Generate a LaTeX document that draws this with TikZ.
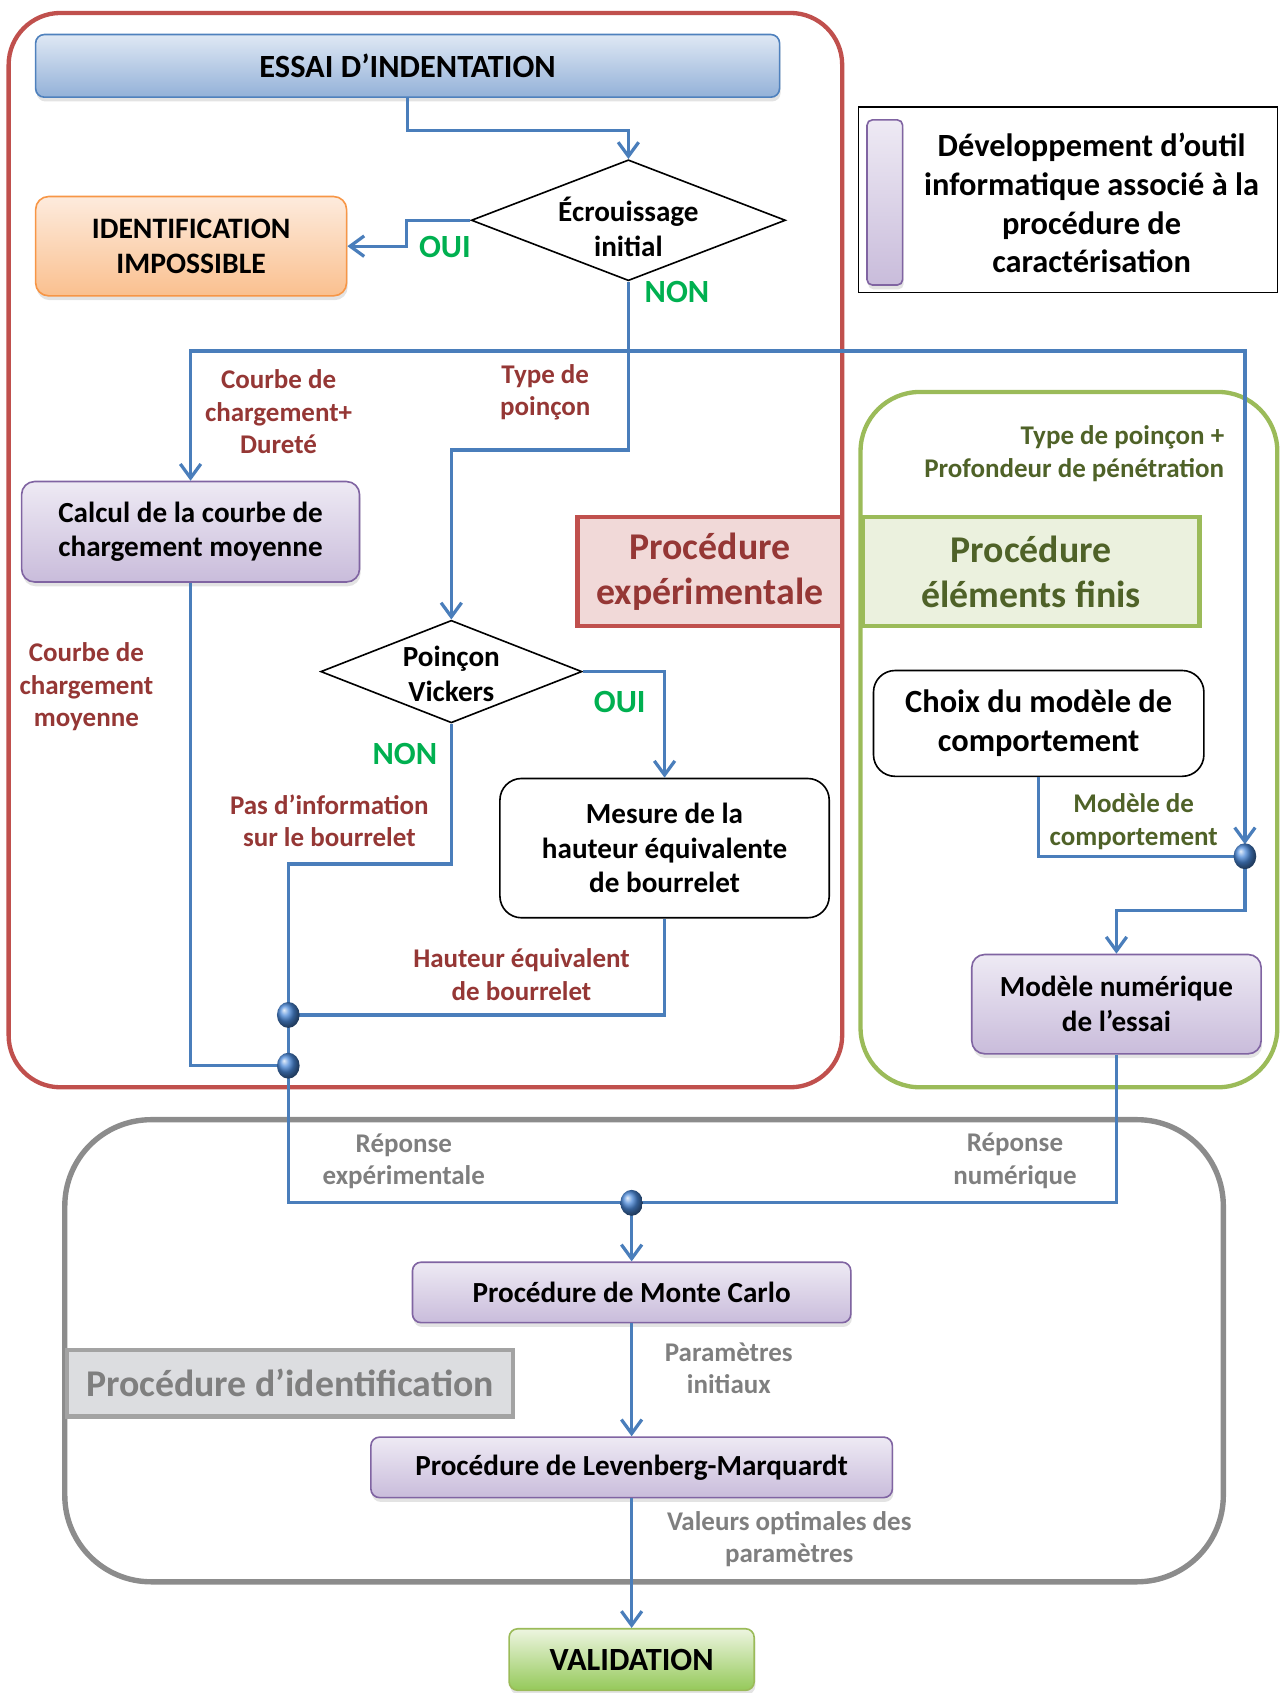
\documentclass[tikz,border=0pt]{standalone}
\usepackage{fontspec}
\setmainfont{Carlito}
\usetikzlibrary{shapes.geometric,arrows.meta,shadows}
\definecolor{cBlue}{HTML}{4A7EBB}
\definecolor{cRed}{HTML}{C0504D}
\definecolor{cDarkRed}{HTML}{953735}
\definecolor{cGreen}{HTML}{9BBB59}
\definecolor{cDarkGreen}{HTML}{4F6228}
\definecolor{cOK}{HTML}{00B050}
\definecolor{cGrey}{HTML}{8C8C8C}
\definecolor{cGreyTxt}{HTML}{7F7F7F}
\definecolor{cPurple}{HTML}{8064A2}
\definecolor{cPurTop}{HTML}{EEEAF4}
\definecolor{cPurBot}{HTML}{C9BCDB}
\definecolor{cBluTop}{HTML}{DFE8F4}
\definecolor{cBluBot}{HTML}{93B1D8}
\definecolor{cBluDraw}{HTML}{4F81BD}
\definecolor{cOrTop}{HTML}{FDEBDD}
\definecolor{cOrBot}{HTML}{FAC08F}
\definecolor{cOrDraw}{HTML}{F79646}
\definecolor{cValTop}{HTML}{EDF5E0}
\definecolor{cValBot}{HTML}{95C95A}
\definecolor{cBall}{HTML}{4A88D8}
\definecolor{cIdFill}{HTML}{DCDDE0}
\definecolor{cIdDraw}{HTML}{A3A3A3}
\begin{document}
\begin{tikzpicture}[x=1pt,y=-1pt,
  boxfont/.style={font=\bfseries\fontsize{27}{32}\selectfont},
  capsfont/.style={font=\bfseries\fontsize{30}{32}\selectfont},
  box/.style={rounded corners=8pt, draw, line width=1.5pt, align=center, inner sep=0pt, boxfont},
  shadowed/.style={drop shadow={shadow xshift=1pt,shadow yshift=-4pt,opacity=0.22}},
  purplebox/.style={box, shadowed, draw=cPurple, top color=cPurTop, bottom color=cPurBot},
  whitebox/.style={box, rounded corners=20pt, fill=white},
  dia/.style={diamond, draw, line width=1.5pt, inner sep=0pt, fill=white},
  diatxt/.style={align=center, inner sep=0pt, boxfont},
  flow/.style={draw=cBlue, line width=3pt},
  arr/.style={flow, -{Straight Barb[length=13pt,width=19pt]}},
  lbl/.style={align=center, inner sep=0pt, font=\bfseries\fontsize{25}{30}\selectfont},
  redlbl/.style={lbl, text=cDarkRed},
  grnlbl/.style={lbl, text=cDarkGreen},
  greylbl/.style={lbl, text=cGreyTxt},
  yesno/.style={inner sep=0pt, text=cOK, font=\bfseries\fontsize{30}{32}\selectfont},
  proc/.style={align=center, inner sep=0pt, line width=4pt, font=\bfseries\fontsize{35}{42}\selectfont},
  dot/.style={ellipse, inner sep=0pt, minimum width=21pt, minimum height=24pt, shading=ball, ball color=cBall}
]
\useasboundingbox (0,0) rectangle (1185,1568);

% containers
\draw[cRed, line width=4pt, rounded corners=48pt] (8,12) rectangle (780,1007);
\draw[cGreen, line width=4pt, rounded corners=55pt] (797,363) rectangle (1183,1007);
\draw[cGrey, line width=5pt, rounded corners=80pt] (60,1037) rectangle (1133,1465);

% legend
\node[draw=black, line width=1.5pt, fill=white, minimum width=388pt, minimum height=172pt, inner sep=0pt] (leg) at (989,185) {};
\node[draw=cPurple, line width=1.5pt, rounded corners=5pt, top color=cPurTop, bottom color=cPurBot, minimum width=33pt, minimum height=153pt, inner sep=0pt, shadowed] (legbar) at (819.5,187.5) {};
\node[align=center, inner sep=0pt, font=\bfseries\fontsize{30}{36}\selectfont] (legt) at (1011,188) {Développement d’outil\\informatique associé à la\\procédure de\\caractérisation};

% boxes
\node[box, capsfont, shadowed, draw=cBluDraw, top color=cBluTop, bottom color=cBluBot, minimum width=689pt, minimum height=58pt] (essai) at (377.5,61) {ESSAI D’INDENTATION};
\node[box, shadowed, rounded corners=12pt, draw=cOrDraw, top color=cOrTop, bottom color=cOrBot, font=\bfseries\fontsize{27.5}{32}\selectfont, minimum width=288pt, minimum height=92pt] (ident) at (177,228) {IDENTIFICATION\\IMPOSSIBLE};
\node[dia, minimum width=291pt, minimum height=112pt] (d1) at (582,204) {};
\node[diatxt] (d1t) at (582,210) {Écrouissage\\initial};
\node[purplebox, rounded corners=12pt, minimum width=313pt, minimum height=93pt] (calc) at (176.5,492.5) {Calcul de la courbe de\\chargement moyenne};
\node[proc, draw=cRed, fill=cRed!22, text=cDarkRed, minimum width=245pt, minimum height=101pt] (pexp) at (657.5,529.5) {Procédure\\expérimentale};
\node[dia, minimum width=242pt, minimum height=95pt] (d2) at (418,622) {};
\node[diatxt] (d2t) at (418,624) {Poinçon\\Vickers};
\node[whitebox, minimum width=305pt, minimum height=129pt] (mes) at (615.5,785.5) {Mesure de la\\hauteur équivalente\\de bourrelet};
\node[proc, draw=cGreen, fill=cGreen!20, text=cDarkGreen, minimum width=312pt, minimum height=101pt] (pef) at (955,529.5) {Procédure\\éléments finis};
\node[whitebox, font=\bfseries\fontsize{30}{36}\selectfont, minimum width=306pt, minimum height=98pt] (choix) at (962,670) {Choix du modèle de\\comportement};
\node[purplebox, rounded corners=12pt, minimum width=268pt, minimum height=92pt] (mnum) at (1034,930) {Modèle numérique\\de l’essai};
\node[purplebox, minimum width=406pt, minimum height=56pt] (mc) at (585,1197) {Procédure de Monte Carlo};
\node[purplebox, minimum width=483pt, minimum height=56pt] (lev) at (585,1359) {Procédure de Levenberg-Marquardt};
\node[box, capsfont, shadowed, draw=cGreen, top color=cValTop, bottom color=cValBot, minimum width=227pt, minimum height=57pt] (val) at (585,1537) {VALIDATION};
\node[proc, draw=cIdDraw, fill=cIdFill, text=cGreyTxt, minimum width=413pt, minimum height=62pt] (pid) at (268.5,1281) {Procédure d’identification};

% junction coordinates
\coordinate (br) at (582,325);
\coordinate (jA) at (267,940);
\coordinate (jB) at (267,987);
\coordinate (jC) at (585,1114);
\coordinate (jR) at (1153,793);

% connectors
\draw[arr] (essai.south) -- ++(0,30) -| (d1.north);
\draw[arr] (d1.west) -- ++(-59,0) |- (ident.east);
\draw[arr] (d1.south) -- ++(0,156) -| (d2.north);
\draw[arr] (br) -| (calc.north);
\draw[arr, shorten >=11pt] (br) -| (jR);
\draw[flow] (calc.south) |- (jB);
\draw[arr] (d2.east) -| (mes.north);
\draw[flow] (d2.south) -- ++(0,130) -| (jA);
\draw[flow] (mes.south) |- (jA);
\draw[flow] (jA) -- (jB);
\draw[flow] (jB) |- (jC) -| (mnum.south);
\draw[flow] (choix.south) |- (jR);
\draw[arr] (jR) -- ++(0,50) -| (mnum.north);
\draw[arr] (jC) -- (mc.north);
\draw[arr] (mc.south) -- (lev.north);
\draw[arr] (lev.south) -- (val.north);

% dots
\node[dot] (dA) at (jA) {};
\node[dot] (dB) at (jB) {};
\node[dot] (dC) at (jC) {};
\node[dot] (dR) at (jR) {};

% labels
\node[yesno] (oui1) at (412,229) {OUI};
\node[yesno] (non1) at (627,270) {NON};
\node[yesno] (oui2) at (574,650) {OUI};
\node[yesno] (non2) at (375,698) {NON};
\node[redlbl] (l1) at (258,381.5) {Courbe de\\chargement+\\Dureté};
\node[redlbl] (l2) at (505,363.5) {Type de\\poinçon};
\node[redlbl] (l3) at (80,636) {Courbe de\\chargement\\moyenne};
\node[redlbl] (l4) at (305,760) {Pas d’information\\sur le bourrelet};
\node[redlbl] (l5) at (483,902.5) {Hauteur équivalent\\de bourrelet};
\node[grnlbl, align=right, anchor=east] (l6) at (1134,420) {Type de poinçon +\\Profondeur de pénétration};
\node[grnlbl] (l7) at (1050,761) {Modèle de\\comportement};
\node[greylbl] (l8) at (374,1075.5) {Réponse\\expérimentale};
\node[greylbl] (l9) at (940,1075) {Réponse\\numérique};
\node[greylbl] (l10) at (675,1267.5) {Paramètres\\initiaux};
\node[greylbl] (l11) at (731,1425.5) {Valeurs optimales des\\paramètres};
\end{tikzpicture}
\end{document}
